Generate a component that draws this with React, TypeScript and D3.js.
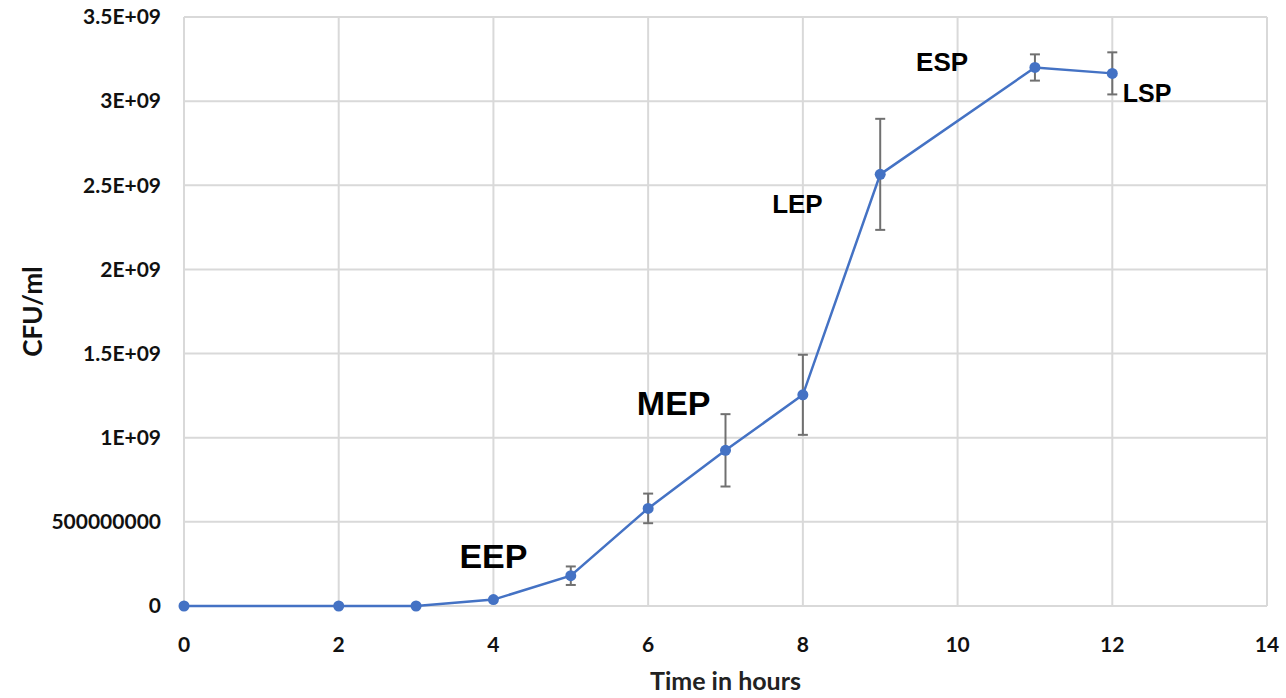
import * as d3 from 'd3';
import { useEffect, useRef } from 'react';

const hours = [0, 2, 3, 4, 5, 6, 7, 8, 9, 11, 12];
const cfuMeans = [0, 0, 0, 3.8e7, 1.8e8, 5.8e8, 9.25e8, 1.255e9, 2.565e9, 3.2e9, 3.165e9];
const cfuErrors = [0, 0, 0, 0, 5.5e7, 8.8e7, 2.15e8, 2.38e8, 3.3e8, 7.8e7, 1.25e8];
const xTicks = [0, 2, 4, 6, 8, 10, 12, 14];
const yTicks = [0, 5e8, 1e9, 1.5e9, 2e9, 2.5e9, 3e9, 3.5e9];
const yTickLabels = ['0', '500000000', '1E+09', '1.5E+09', '2E+09', '2.5E+09', '3E+09', '3.5E+09'];
const phaseNames = ['EEP', 'MEP', 'LEP', 'ESP', 'LSP'];
const phaseHours = [4.0, 6.33, 7.93, 9.8, 12.45];
const phaseValues = [2.26e8, 1.136e9, 2.337e9, 3.18e9, 2.996e9];
const phaseSizes = [34, 34, 26, 26, 25];

const WIDTH = 1286;
const HEIGHT = 698;
const LINE_COLOR = '#4472C4';
const GRID_COLOR = '#d9d9d9';
const LABEL_FONT = 'Lato, "Open Sans", sans-serif';

export default function App() {
  const ref = useRef<SVGSVGElement>(null);

  useEffect(() => {
    const svg = d3.select(ref.current);
    svg.selectAll('*').remove();

    const margin = { top: 17, right: 19, bottom: 92, left: 184 };
    const innerWidth = WIDTH - margin.left - margin.right;
    const innerHeight = HEIGHT - margin.top - margin.bottom;

    const x = d3.scaleLinear().domain([0, 14]).range([0, innerWidth]);
    const y = d3.scaleLinear().domain([0, 3.5e9]).range([innerHeight, 0]);

    const g = svg.append('g').attr('transform', `translate(${margin.left},${margin.top})`);

    // grid
    g.append('g')
      .selectAll('line')
      .data(yTicks)
      .enter()
      .append('line')
      .attr('x1', 0)
      .attr('x2', innerWidth)
      .attr('y1', (d) => y(d))
      .attr('y2', (d) => y(d))
      .attr('stroke', GRID_COLOR)
      .attr('stroke-width', 2);

    g.append('g')
      .selectAll('line')
      .data(xTicks)
      .enter()
      .append('line')
      .attr('x1', (d) => x(d))
      .attr('x2', (d) => x(d))
      .attr('y1', 0)
      .attr('y2', innerHeight)
      .attr('stroke', GRID_COLOR)
      .attr('stroke-width', 2);

    // tick labels
    g.append('g')
      .selectAll('text')
      .data(yTicks)
      .enter()
      .append('text')
      .attr('x', -23)
      .attr('y', (d) => y(d))
      .attr('dy', '0.35em')
      .attr('text-anchor', 'end')
      .style('font-family', LABEL_FONT)
      .style('font-weight', 700)
      .style('font-size', '21px')
      .style('fill', '#111')
      .text((d, i) => yTickLabels[i]);

    g.append('g')
      .selectAll('text')
      .data(xTicks)
      .enter()
      .append('text')
      .attr('x', (d) => x(d))
      .attr('y', innerHeight + 46)
      .attr('text-anchor', 'middle')
      .style('font-family', LABEL_FONT)
      .style('font-weight', 700)
      .style('font-size', '21px')
      .style('fill', '#111')
      .text((d) => d);

    // axis titles
    g.append('text')
      .attr('x', x(7))
      .attr('y', innerHeight + 84)
      .attr('text-anchor', 'middle')
      .style('font-family', LABEL_FONT)
      .style('font-weight', 700)
      .style('font-size', '25px')
      .style('fill', '#222')
      .text('Time in hours');

    g.append('text')
      .attr('transform', 'rotate(-90)')
      .attr('x', -y(1.75e9))
      .attr('y', -142)
      .attr('text-anchor', 'middle')
      .style('font-family', LABEL_FONT)
      .style('font-weight', 700)
      .style('font-size', '26px')
      .style('fill', '#111')
      .text('CFU/ml');

    const points = hours.map((h, i) => ({ h, v: cfuMeans[i], e: cfuErrors[i] }));

    // error bars
    const bars = g.append('g')
      .selectAll('g')
      .data(points.filter((p) => p.e > 0))
      .enter()
      .append('g')
      .attr('stroke', '#707070')
      .attr('stroke-width', 2);
    bars.append('line')
      .attr('x1', (p) => x(p.h))
      .attr('x2', (p) => x(p.h))
      .attr('y1', (p) => y(p.v + p.e))
      .attr('y2', (p) => y(p.v - p.e));
    bars.append('line')
      .attr('x1', (p) => x(p.h) - 5)
      .attr('x2', (p) => x(p.h) + 5)
      .attr('y1', (p) => y(p.v + p.e))
      .attr('y2', (p) => y(p.v + p.e));
    bars.append('line')
      .attr('x1', (p) => x(p.h) - 5)
      .attr('x2', (p) => x(p.h) + 5)
      .attr('y1', (p) => y(p.v - p.e))
      .attr('y2', (p) => y(p.v - p.e));

    // line + markers
    const line = d3.line<{ h: number; v: number }>()
      .x((p) => x(p.h))
      .y((p) => y(p.v));
    g.append('path')
      .datum(points)
      .attr('d', line)
      .attr('fill', 'none')
      .attr('stroke', LINE_COLOR)
      .attr('stroke-width', 2.5);

    g.append('g')
      .selectAll('circle')
      .data(points)
      .enter()
      .append('circle')
      .attr('cx', (p) => x(p.h))
      .attr('cy', (p) => y(p.v))
      .attr('r', 5.5)
      .attr('fill', LINE_COLOR);

    // phase annotations
    g.append('g')
      .selectAll('text')
      .data(phaseNames)
      .enter()
      .append('text')
      .attr('x', (d, i) => x(phaseHours[i]))
      .attr('y', (d, i) => y(phaseValues[i]))
      .attr('text-anchor', 'middle')
      .style('font-family', '"Liberation Sans", Arial, sans-serif')
      .style('font-weight', 700)
      .style('font-size', (d, i) => `${phaseSizes[i]}px`)
      .style('fill', '#000')
      .text((d) => d);
  }, []);

  return (
    <svg
      ref={ref}
      width={WIDTH}
      height={HEIGHT}
      style={{ position: 'absolute', left: 0, top: 0, background: '#fff' }}
    />
  );
}
